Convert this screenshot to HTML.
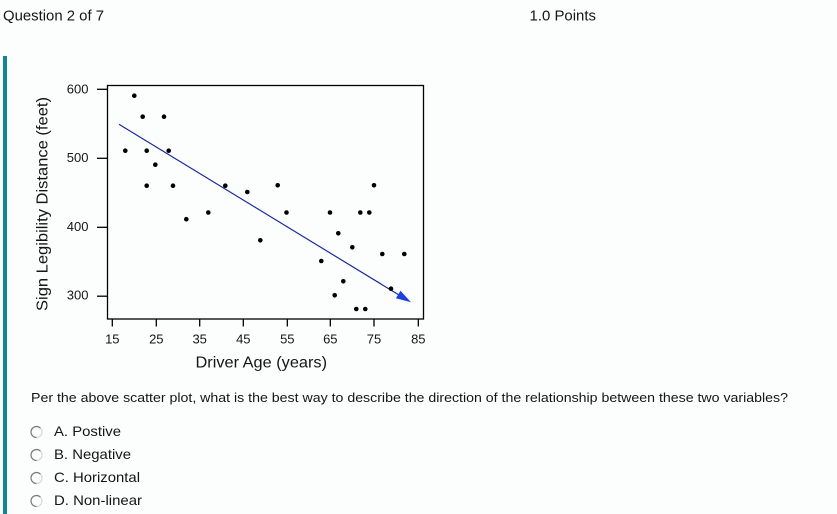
<!DOCTYPE html>
<html><head><meta charset="utf-8"><style>
html,body{margin:0;padding:0;background:#fcfefe;}
svg{display:block;}
text{font-family:"Liberation Sans",Arial,sans-serif;fill:#151515;}
</style></head><body>
<svg width="837" height="514" viewBox="0 0 837 514" xmlns="http://www.w3.org/2000/svg">
<rect x="0" y="0" width="837" height="514" fill="#fcfefe"/>
<text x="3" y="20.5" font-size="15" textLength="101" lengthAdjust="spacingAndGlyphs">Question 2 of 7</text>
<text x="529.5" y="20.5" font-size="15" textLength="66.5" lengthAdjust="spacingAndGlyphs">1.0 Points</text>
<rect x="3" y="56" width="4" height="458" fill="#12878d"/>
<!-- plot frame -->
<rect x="107.5" y="85.5" width="316" height="233.5" fill="none" stroke="#000" stroke-width="1.3"/>
<g stroke="#000" stroke-width="1.3">
<line x1="97" y1="89.3" x2="107.5" y2="89.3"/>
<line x1="97" y1="158.3" x2="107.5" y2="158.3"/>
<line x1="97" y1="227.3" x2="107.5" y2="227.3"/>
<line x1="97" y1="296.2" x2="107.5" y2="296.2"/>
<line x1="112.3" y1="319" x2="112.3" y2="326.5"/>
<line x1="156.3" y1="319" x2="156.3" y2="326.5"/>
<line x1="199.7" y1="319" x2="199.7" y2="326.5"/>
<line x1="243.3" y1="319" x2="243.3" y2="326.5"/>
<line x1="287.3" y1="319" x2="287.3" y2="326.5"/>
<line x1="330.3" y1="319" x2="330.3" y2="326.5"/>
<line x1="374" y1="319" x2="374" y2="326.5"/>
<line x1="418.3" y1="319" x2="418.3" y2="326.5"/>
</g>
<g font-size="13" text-anchor="end">
<text x="88.5" y="93.3">600</text>
<text x="88.5" y="162">500</text>
<text x="88.5" y="231">400</text>
<text x="88.5" y="299.5">300</text>
</g>
<g font-size="13" text-anchor="middle">
<text x="112.3" y="343.3">15</text>
<text x="156.3" y="343.3">25</text>
<text x="199.7" y="343.3">35</text>
<text x="243.3" y="343.3">45</text>
<text x="287.3" y="343.3">55</text>
<text x="330.3" y="343.3">65</text>
<text x="374" y="343.3">75</text>
<text x="418.3" y="343.3">85</text>
</g>
<text x="195.5" y="367.5" font-size="16" textLength="131.5" lengthAdjust="spacingAndGlyphs" fill="#222">Driver Age (years)</text>
<text transform="translate(47.7,311) rotate(-90)" x="0" y="0" font-size="16" textLength="214" lengthAdjust="spacingAndGlyphs" fill="#222">Sign Legibility Distance (feet)</text>
<!-- regression line -->
<line x1="119" y1="124.3" x2="399" y2="295" stroke="#1a2a9c" stroke-width="1.2"/>
<polygon points="411,302.3 395.9,298.3 400.5,290.7" fill="#1f3fe0"/>
<!-- points -->
<g fill="#000">
<circle cx="134.3" cy="95.7" r="2.3"/>
<circle cx="142.7" cy="116.7" r="2.3"/>
<circle cx="164" cy="116.7" r="2.3"/>
<circle cx="125.3" cy="150.7" r="2.3"/>
<circle cx="146.7" cy="150.7" r="2.3"/>
<circle cx="168.7" cy="150.7" r="2.3"/>
<circle cx="155.3" cy="164.7" r="2.3"/>
<circle cx="146.7" cy="185.7" r="2.3"/>
<circle cx="173" cy="185.7" r="2.3"/>
<circle cx="225.3" cy="185.7" r="2.3"/>
<circle cx="186.3" cy="219.2" r="2.3"/>
<circle cx="208.3" cy="212.5" r="2.3"/>
<circle cx="247.3" cy="192" r="2.3"/>
<circle cx="277.7" cy="185.3" r="2.3"/>
<circle cx="374" cy="185.3" r="2.3"/>
<circle cx="286.5" cy="212.5" r="2.3"/>
<circle cx="330" cy="212.5" r="2.3"/>
<circle cx="360.3" cy="212.5" r="2.3"/>
<circle cx="369.3" cy="212.5" r="2.3"/>
<circle cx="260.3" cy="240.3" r="2.3"/>
<circle cx="338.3" cy="233.3" r="2.3"/>
<circle cx="352.3" cy="247.3" r="2.3"/>
<circle cx="382.3" cy="254" r="2.3"/>
<circle cx="404.3" cy="254" r="2.3"/>
<circle cx="321.3" cy="261" r="2.3"/>
<circle cx="343.3" cy="281.3" r="2.3"/>
<circle cx="391" cy="288.7" r="2.3"/>
<circle cx="334.7" cy="295.3" r="2.3"/>
<circle cx="356.3" cy="309" r="2.3"/>
<circle cx="365.3" cy="309" r="2.3"/>
</g>
<text x="31" y="402" font-size="13" textLength="757" lengthAdjust="spacingAndGlyphs">Per the above scatter plot, what is the best way to describe the direction of the relationship between these two variables?</text>
<!-- radio buttons -->
<g fill="none" stroke-width="1.2">
<circle cx="36.5" cy="432" r="5.5" stroke="#d8d8d8"/>
<path d="M40.4 428.1 A5.5 5.5 0 1 0 36.5 437.5" stroke="#7a7a7a"/>
<circle cx="36.5" cy="455" r="5.5" stroke="#d8d8d8"/>
<path d="M40.4 451.1 A5.5 5.5 0 1 0 36.5 460.5" stroke="#7a7a7a"/>
<circle cx="36.5" cy="478" r="5.5" stroke="#d8d8d8"/>
<path d="M40.4 474.1 A5.5 5.5 0 1 0 36.5 483.5" stroke="#7a7a7a"/>
<circle cx="36.5" cy="501" r="5.5" stroke="#d8d8d8"/>
<path d="M40.4 497.1 A5.5 5.5 0 1 0 36.5 506.5" stroke="#7a7a7a"/>
</g>
<g font-size="14">
<text x="54" y="436" textLength="67" lengthAdjust="spacingAndGlyphs">A. Postive</text>
<text x="54" y="459" textLength="77" lengthAdjust="spacingAndGlyphs">B. Negative</text>
<text x="54" y="482" textLength="86" lengthAdjust="spacingAndGlyphs">C. Horizontal</text>
<text x="54" y="505" textLength="88" lengthAdjust="spacingAndGlyphs">D. Non-linear</text>
</g>
</svg>
</body></html>
